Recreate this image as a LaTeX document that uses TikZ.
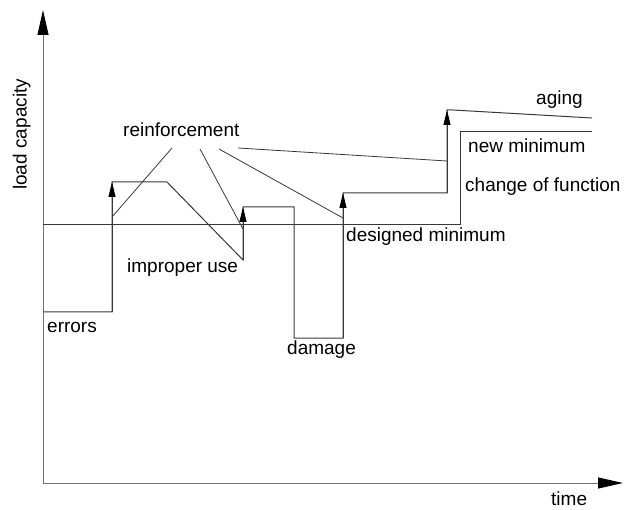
\documentclass[tikz,border=0pt]{standalone}
\usepackage{fontspec}
\setmainfont{Liberation Sans}
\usetikzlibrary{arrows.meta}
\begin{document}
\begin{tikzpicture}[x=1pt,y=-1pt,
  axisline/.style={draw=black!55,line width=1pt},
  curveline/.style={draw=black!78,line width=1pt},
  leader/.style={draw=black!78,line width=0.8pt},
  bigtip/.style={-{Triangle[length=25pt,width=11pt,color=black]}},
  smalltip/.style={-{Triangle[length=15pt,width=7pt,color=black]}},
  lbl/.style={inner sep=0pt,anchor=base west,font=\fontsize{19}{22}\selectfont}]
\useasboundingbox (0,0) rectangle (626,510);
% axes
\coordinate (O) at (43,483);
\coordinate (Ytop) at (43,10);
\coordinate (Xend) at (623,483);
\draw[axisline,bigtip] (O) -- (Ytop);
\draw[axisline,bigtip] (O) -- (Xend);
% designed minimum / new minimum
\coordinate (d0) at (43,225);
\coordinate (d1) at (460,225);
\coordinate (d2) at (460,132);
\coordinate (d3) at (592,132);
\draw[curveline] (d0) -- (d1) -- (d2) -- (d3);
% load capacity curve
\coordinate (c0) at (43,312);
\coordinate (c1) at (112,312);
\coordinate (c2) at (112,182);
\coordinate (c3) at (167,182);
\coordinate (c4) at (243,260);
\coordinate (c5) at (243,207);
\coordinate (c6) at (294,207);
\coordinate (c7) at (294,338);
\coordinate (c8) at (343,338);
\coordinate (c9) at (343,193);
\coordinate (c10) at (447,193);
\coordinate (c11) at (447,110);
\coordinate (c12) at (453,110);
\coordinate (c13) at (592,118);
\draw[curveline] (c0) -- (c1) -- (c2) -- (c3) -- (c4) -- (c5) -- (c6) -- (c7) -- (c8) -- (c9) -- (c10) -- (c11) -- (c12) -- (c13);
\draw[curveline,smalltip] (c1) -- (c2);
\draw[curveline,smalltip] (c4) -- (c5);
\draw[curveline,smalltip] (c8) -- (c9);
\draw[curveline,smalltip] (c10) -- (c11);
% labels
\node[lbl] (reinf) at (123,137) {reinforcement};
\node[lbl] (aging) at (536,104.5) {aging};
\node[lbl] (newmin) at (468,153) {new minimum};
\node[lbl] (change) at (465,192) {change of function};
\node[lbl] (desmin) at (346,242) {designed minimum};
\node[lbl] (improper) at (127,273) {improper use};
\node[lbl] (errors) at (47,332) {errors};
\node[lbl] (damage) at (287,354) {damage};
\node[lbl] (time) at (551,505.5) {time};
\node[lbl,rotate=90] (load) at (26.5,190) {load capacity};
% leaders from reinforcement
\coordinate (r1a) at (172,148); \coordinate (r1b) at (112,217);
\coordinate (r2a) at (200,149); \coordinate (r2b) at (243,229);
\coordinate (r3a) at (219,149); \coordinate (r3b) at (343,218);
\coordinate (r4a) at (238,148); \coordinate (r4b) at (447,161);
\draw[leader] (r1a) -- (r1b);
\draw[leader] (r2a) -- (r2b);
\draw[leader] (r3a) -- (r3b);
\draw[leader] (r4a) -- (r4b);
\end{tikzpicture}
\end{document}
